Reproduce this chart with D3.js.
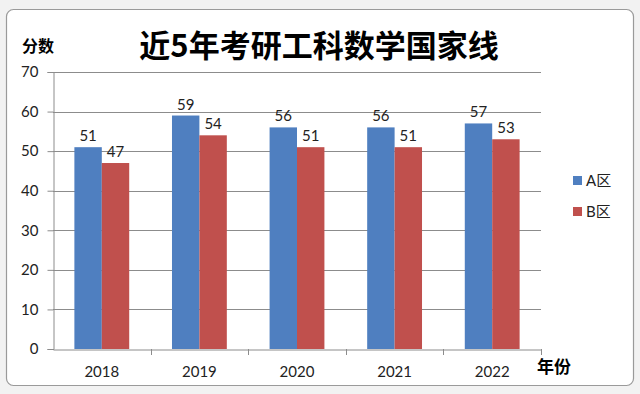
<!DOCTYPE html>
<html><head><meta charset="utf-8">
<script src="https://cdn.jsdelivr.net/npm/d3@7"></script>
<style>body{margin:0;background:#f3f3f3;}svg{display:block;}</style>
</head><body>
<script>
const title = "近5年考研工科数学国家线";
const years = ["2018", "2019", "2020", "2021", "2022"];
const series = ["A区", "B区"];
const valuesA = [51, 59, 56, 56, 57];
const valuesB = [47, 54, 51, 51, 53];
const yTicks = [0, 10, 20, 30, 40, 50, 60, 70];
const colors = ["#4F7FC0", "#C0504D"];

(function () {
const W = 640, H = 394;
const svg = d3.select("body").append("svg").attr("width", W).attr("height", H);
const numFont = "Lato, 'Open Sans', sans-serif";

svg.append("rect").attr("x", 0).attr("y", 0).attr("width", W).attr("height", H).attr("fill", "#f2f2f2");
// chart area
svg.append("rect").attr("x", 6.5).attr("y", 9.5).attr("width", 627).attr("height", 376)
  .attr("rx", 7).attr("fill", "#ffffff").attr("stroke", "#9a9a9a").attr("stroke-width", 1.2);

const pL = 53, pR = 541, pT = 72, pB = 349;
const x = d3.scaleBand().domain(years).range([pL, pR]).padding(0);
const x1 = d3.scaleBand().domain(series).range([0, x.bandwidth()]).paddingInner(0).paddingOuter(0.78);
const y = d3.scaleLinear().domain([0, 70]).range([pB, pT]);

const data = years.map((yr, i) => ({year: yr, vals: [valuesA[i], valuesB[i]]}));

// gridlines
svg.append("g").selectAll("line").data(yTicks.filter(t => t > 0)).join("line")
  .attr("x1", pL).attr("x2", pR)
  .attr("y1", d => Math.round(y(d)) + 0.5).attr("y2", d => Math.round(y(d)) + 0.5)
  .attr("stroke", "#8c8c8c").attr("stroke-width", 1);

// y axis
const yAxis = svg.append("g").attr("transform", `translate(${pL + 0.5},0)`)
  .call(d3.axisLeft(y).tickValues(yTicks).tickSize(6).tickPadding(9));
yAxis.select(".domain").attr("stroke", "#8c8c8c");
yAxis.selectAll(".tick line").attr("stroke", "#8c8c8c");
yAxis.selectAll("text").attr("font-family", numFont).attr("font-size", 15).attr("fill", "#222");

// bars
const groups = svg.append("g").selectAll("g").data(data).join("g")
  .attr("transform", d => `translate(${x(d.year)},0)`);
groups.selectAll("rect").data(d => d.vals.map((v, j) => ({s: series[j], v, j}))).join("rect")
  .attr("x", d => x1(d.s)).attr("width", x1.bandwidth())
  .attr("y", d => y(d.v)).attr("height", d => y(0) - y(d.v))
  .attr("fill", d => colors[d.j]);
groups.selectAll("text").data(d => d.vals.map((v, j) => ({s: series[j], v, j}))).join("text")
  .attr("x", d => x1(d.s) + x1.bandwidth() / 2).attr("y", d => y(d.v) - 6)
  .attr("text-anchor", "middle").attr("font-family", numFont)
  .attr("font-size", 15).attr("fill", "#222").text(d => d.v);

// x axis
const xAxis = svg.append("g").attr("transform", `translate(0,${pB + 0.5})`)
  .call(d3.axisBottom(x).tickSize(0).tickPadding(17));
xAxis.select(".domain").attr("stroke", "#8c8c8c");
xAxis.selectAll("text").attr("font-family", numFont).attr("font-size", 15).attr("fill", "#222");
svg.append("g").selectAll("line").data(years).join("line")
  .attr("x1", d => Math.round(x(d) + x.bandwidth()) + 0.5).attr("x2", d => Math.round(x(d) + x.bandwidth()) + 0.5)
  .attr("y1", pB).attr("y2", pB + 6).attr("stroke", "#8c8c8c");

// titles
svg.append("text").attr("x", 319).attr("y", 57).attr("text-anchor", "middle")
  .attr("font-family", "'Noto Sans CJK SC', sans-serif").attr("font-weight", 700)
  .attr("font-size", 31).attr("fill", "#000").text(title);
svg.append("text").attr("x", 22).attr("y", 52)
  .attr("font-family", "'Noto Sans CJK SC', sans-serif").attr("font-weight", 700)
  .attr("font-size", 16).attr("fill", "#000").text("分数");
svg.append("text").attr("x", 537).attr("y", 373)
  .attr("font-family", "'Noto Sans CJK SC', sans-serif").attr("font-weight", 700)
  .attr("font-size", 17).attr("fill", "#000").text("年份");

// legend
const lg = svg.append("g").selectAll("g").data(series).join("g")
  .attr("transform", (d, i) => `translate(573,${176 + i * 31})`);
lg.append("rect").attr("width", 9).attr("height", 9).attr("fill", (d, i) => colors[i]);
lg.append("text").attr("x", 13).attr("y", 10)
  .attr("font-family", "Lato, 'Noto Sans CJK SC', sans-serif").attr("font-size", 15).attr("fill", "#222").text(d => d);
})();
</script>
</body></html>
